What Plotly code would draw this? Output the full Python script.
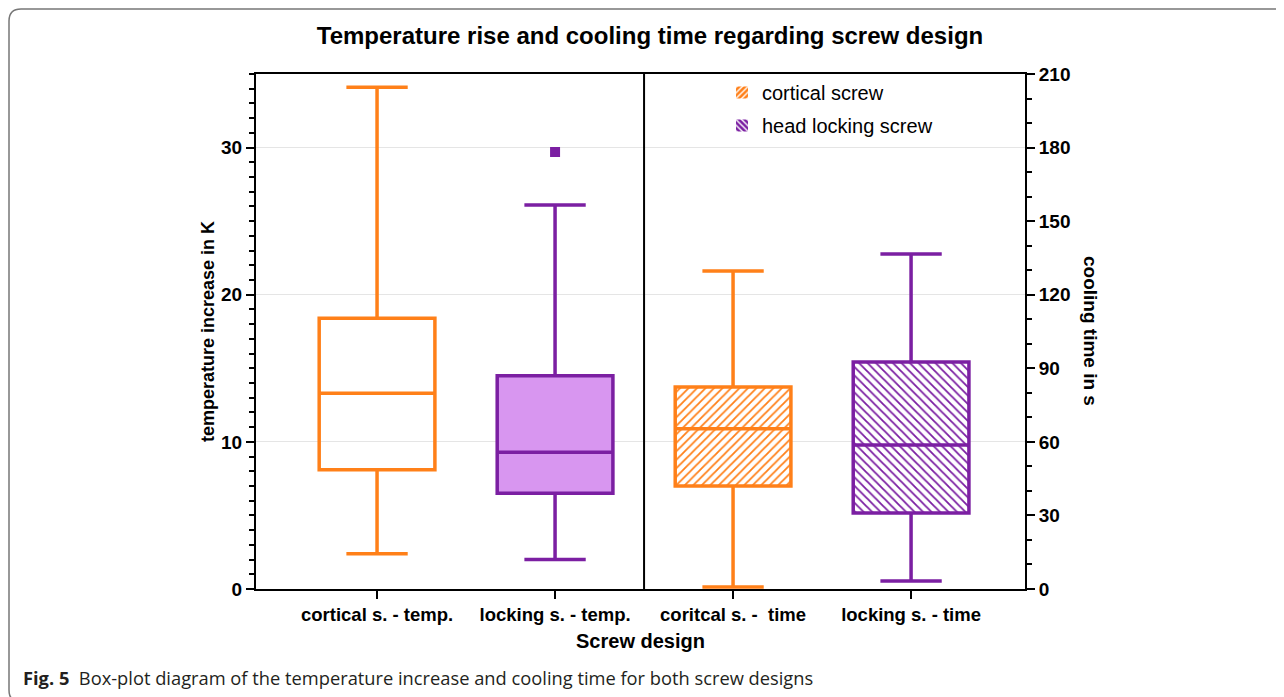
import plotly.graph_objects as go

# ---- data ----
categories = ["cortical s. - temp.", "locking s. - temp.", "coritcal s. -  time", "locking s. - time"]

# temperature increase in K (left axis)
temp_cats = categories[:2]
temp_q1 = [8.1, 6.5]
temp_median = [13.3, 9.3]
temp_q3 = [18.4, 14.5]
temp_low = [2.4, 2.0]
temp_high = [34.1, 26.1]
temp_outlier_cat = ["locking s. - temp."]
temp_outlier_val = [29.7]

# cooling time in s (right axis)
time_cats = categories[2:]
time_q1 = [42.0, 31.0]
time_median = [65.3, 58.7]
time_q3 = [82.4, 92.6]
time_low = [0.8, 3.3]
time_high = [129.7, 136.6]

legend_names = ["cortical screw", "head locking screw"]

ORANGE = "#FF8019"
PURPLE = "#7B1FA2"
LIGHT_PURPLE = "#D896F0"
FONT = "Liberation Sans, Arial, sans-serif"

W, H = 1284, 697
OFF = 8  # page body margin offset
L, R, T, B = 256, 1025, 74, 589  # plot area in screen pixels


def px(x):
    return (x - L) / (R - L)


def py(y):
    return (B - y) / (B - T)


fig = go.Figure()

patterns = ["/", "\\"]
colors = [ORANGE, PURPLE]

# hatched fills for the cooling time boxes (bars spanning q1..q3)
for i in range(2):
    fig.add_trace(go.Bar(
        x=[time_cats[i]], y=[time_q3[i] - time_q1[i]], base=[time_q1[i]],
        width=0.65, yaxis="y2", name=legend_names[i], showlegend=False,
        marker=dict(color="white", line=dict(width=0),
                    pattern=dict(shape=patterns[i], fgcolor=colors[i], bgcolor="white",
                                 fgopacity=1, size=6, solidity=0.3, fillmode="replace")),
        hoverinfo="skip",
    ))

# legend entries (coloured swatch with white stripes)
for i in range(2):
    fig.add_trace(go.Bar(
        x=[time_cats[i]], y=[None], width=0.65, yaxis="y2", name=legend_names[i],
        legendgroup=f"g{i}", showlegend=True,
        marker=dict(color=colors[i], line=dict(width=0),
                    pattern=dict(shape=patterns[i], fgcolor="white", bgcolor=colors[i],
                                 fgopacity=1, size=5, solidity=0.35, fillmode="replace")),
        hoverinfo="skip",
    ))

# temperature boxes
fills = ["rgba(255,255,255,0)", LIGHT_PURPLE]
for i in range(2):
    fig.add_trace(go.Box(
        x=[temp_cats[i]], q1=[temp_q1[i]], median=[temp_median[i]], q3=[temp_q3[i]],
        lowerfence=[temp_low[i]], upperfence=[temp_high[i]],
        width=0.65, whiskerwidth=0.53, fillcolor=fills[i],
        line=dict(color=colors[i], width=3.5), showlegend=False, yaxis="y",
    ))

# time boxes (outline only, hatch below)
for i in range(2):
    fig.add_trace(go.Box(
        x=[time_cats[i]], q1=[time_q1[i]], median=[time_median[i]], q3=[time_q3[i]],
        lowerfence=[time_low[i]], upperfence=[time_high[i]],
        width=0.65, whiskerwidth=0.53, fillcolor="rgba(255,255,255,0)",
        line=dict(color=colors[i], width=3.5), showlegend=False, yaxis="y2",
    ))

# outlier
fig.add_trace(go.Scatter(
    x=temp_outlier_cat, y=temp_outlier_val, mode="markers", yaxis="y",
    marker=dict(symbol="square", size=10, color=PURPLE), showlegend=False,
))

axis_common = dict(
    showline=True, linecolor="black", linewidth=2, ticks="outside",
    tickcolor="black", tickwidth=2, ticklen=8, zeroline=False,
)
yticks_font = dict(family=FONT, size=19, color="black", weight="bold")

fig.update_layout(
    width=W, height=H,
    margin=dict(l=L - OFF, r=W - (R - OFF), t=T - OFF, b=H - (B - OFF)),
    paper_bgcolor="white", plot_bgcolor="white",
    barmode="overlay", boxmode="overlay",
    font=dict(family=FONT, color="black"),
    title=dict(text="<b>Temperature rise and cooling time regarding screw design</b>",
               x=0.5, xanchor="center", y=1 - (36 - OFF) / H, yanchor="middle",
               font=dict(family=FONT, size=24, color="black")),
    xaxis=dict(
        **axis_common,
        tickfont=dict(family=FONT, size=18.5, color="black", weight="bold"),
        type="category", categoryorder="array", categoryarray=categories,
        range=[-0.68, 3.64], mirror=True, showgrid=False,
        title=dict(text="<b>Screw design</b>", font=dict(family=FONT, size=20), standoff=10),
    ),
    yaxis=dict(
        **axis_common, tickfont=yticks_font, range=[0, 35], tickvals=[0, 10, 20, 30],
        showgrid=True, gridcolor="#e5e5e5", gridwidth=1,
        minor=dict(dtick=1, ticks="outside", ticklen=5, tickcolor="black", tickwidth=2, showgrid=False),
        title=dict(text="<b>temperature increase in K</b>", font=dict(family=FONT, size=18), standoff=2),
    ),
    yaxis2=dict(
        **axis_common, tickfont=yticks_font, range=[0, 210],
        tickvals=[0, 30, 60, 90, 120, 150, 180, 210],
        overlaying="y", side="right", showgrid=False,
        minor=dict(dtick=10, ticks="outside", ticklen=5, tickcolor="black", tickwidth=2, showgrid=False),
    ),
    legend=dict(x=px(722), y=py(73), xanchor="left", yanchor="top",
                bgcolor="rgba(255,255,255,0)", font=dict(family=FONT, size=20, color="black"),
                tracegroupgap=4),
)

# vertical divider between temperature and time groups
fig.add_shape(type="line", xref="x", yref="paper", x0=1.5, x1=1.5, y0=0, y1=1,
              line=dict(color="black", width=2))

# right axis title (reads top to bottom)
fig.add_annotation(text="<b>cooling time in s</b>", xref="paper", yref="paper",
                   x=px(1091), y=py(331), xanchor="center", yanchor="middle",
                   textangle=90, showarrow=False,
                   font=dict(family=FONT, size=19, color="black"))

# caption
fig.add_annotation(
    text="<b>Fig. 5</b>  Box-plot diagram of the temperature increase and cooling time for both screw designs",
    xref="paper", yref="paper", x=px(21), y=py(677), xanchor="left", yanchor="middle",
    showarrow=False, font=dict(family="Open Sans, sans-serif", size=18.3, color="#231f20"))

# figure frame with rounded corners
r = 12
x0, y0, x1, y1 = 9, 9, 1300, 702
path = (f"M {px(x0 + r)},{py(y0)} L {px(x1)},{py(y0)} L {px(x1)},{py(y1)} "
        f"L {px(x0 + r)},{py(y1)} Q {px(x0)},{py(y1)} {px(x0)},{py(y1 - r)} "
        f"L {px(x0)},{py(y0 + r)} Q {px(x0)},{py(y0)} {px(x0 + r)},{py(y0)} Z")
fig.add_shape(type="path", xref="paper", yref="paper", path=path,
              line=dict(color="#777777", width=1.5), layer="below")

fig.write_html("out.html")
